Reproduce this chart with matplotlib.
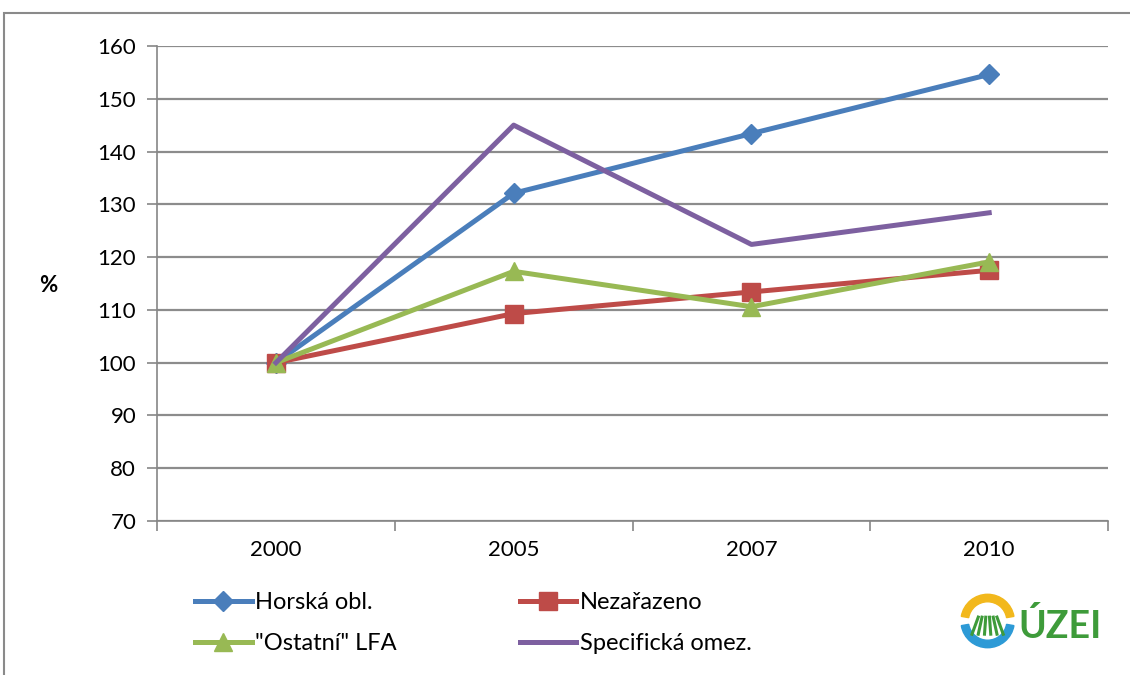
import matplotlib
matplotlib.use('Agg')
import matplotlib.pyplot as plt
import matplotlib.patches as mpatches
import numpy as np

years = ['2000', '2005', '2007', '2010']
horska = [100, 132.1, 143.4, 154.6]
nezarazeno = [100, 109.3, 113.4, 117.5]
ostatni = [100, 117.3, 110.6, 119.1]
specificka = [100, 145.0, 122.4, 128.4]

plt.rcParams['font.family'] = ['Lato', 'DejaVu Sans']

fig = plt.figure(figsize=(11.3, 6.75), dpi=100)
ax = fig.add_axes([0.139, 0.2281, 0.8416, 0.7038])

x = np.arange(len(years))
h1, = ax.plot(x, horska, color='#4A7EBB', lw=3.6, marker='D', ms=10, label='Horská obl.')
h2, = ax.plot(x, nezarazeno, color='#BE4B48', lw=3.6, marker='s', ms=13, label='Nezařazeno')
h3, = ax.plot(x, ostatni, color='#98B954', lw=3.6, marker='^', ms=13, label='"Ostatní" LFA')
h4, = ax.plot(x, specificka, color='#7D60A0', lw=3.6, label='Specifická omez.')

ax.set_xlim(-0.5, 3.5)
ax.set_ylim(70, 160)
ax.set_yticks(range(70, 161, 10))
ax.set_xticks(np.arange(-0.5, 3.6, 1))
ax.set_xticklabels([])
ax.set_xticks(x, minor=True)
ax.set_xticklabels(years, minor=True)
ax.tick_params(axis='x', which='minor', length=0, pad=14, labelsize=16)
ax.tick_params(axis='x', which='major', length=7, width=1.2, color='#868686')
ax.tick_params(axis='y', length=7, width=1.2, color='#868686', labelsize=16, pad=8)

ax.grid(axis='y', color='#8C8C8C', lw=1.6)
ax.set_axisbelow(True)
for s in ['top', 'right']:
    ax.spines[s].set_visible(False)
for s in ['left', 'bottom']:
    ax.spines[s].set_color('#868686')
    ax.spines[s].set_linewidth(1.2)

fig.text(48 / 1130, 1 - 285 / 675, '%', fontsize=16, fontweight='bold', ha='center', va='center')

# rows: Horská / Nezařazeno, then Ostatní / Specifická
ax.legend([h1, h3, h2, h4], [h.get_label() for h in [h1, h3, h2, h4]],
          loc='upper left', bbox_to_anchor=(0.04, -0.15), ncol=2, frameon=False,
          fontsize=17, handlelength=2.4, handletextpad=0.15, columnspacing=5.2,
          labelspacing=0.85, borderaxespad=0, borderpad=0)

# outer chart frame
fig.add_artist(mpatches.Rectangle((4 / 1130, -0.05), 1.1, 1 - 13 / 675 + 0.05,
                                  transform=fig.transFigure, fill=False,
                                  edgecolor='#8A8A8A', lw=1.5, clip_on=False))

# UZEI logo
lax = fig.add_axes([0.848, 0.035, 0.052, 0.09])
lax.set_xlim(-1.1, 1.1)
lax.set_ylim(-1.1, 1.1)
lax.set_aspect('equal')
lax.axis('off')
lax.add_patch(mpatches.Wedge((0, 0), 1.0, 10, 170, width=0.28, color='#F2B81C'))
lax.add_patch(mpatches.Wedge((0, 0), 1.0, 190, 350, width=0.28, color='#2D9AD6'))
for xs in np.linspace(-0.55, 0.55, 6):
    lax.plot([xs * 0.6, xs * 1.1], [0.2, -0.55], color='#3E9B3A', lw=2.2, solid_capstyle='butt')
fig.text(0.901, 0.072, 'ÚZEI', fontsize=27, fontweight='bold', color='#3E9B3A',
         va='center', ha='left')

fig.savefig('out.png', dpi=100)
